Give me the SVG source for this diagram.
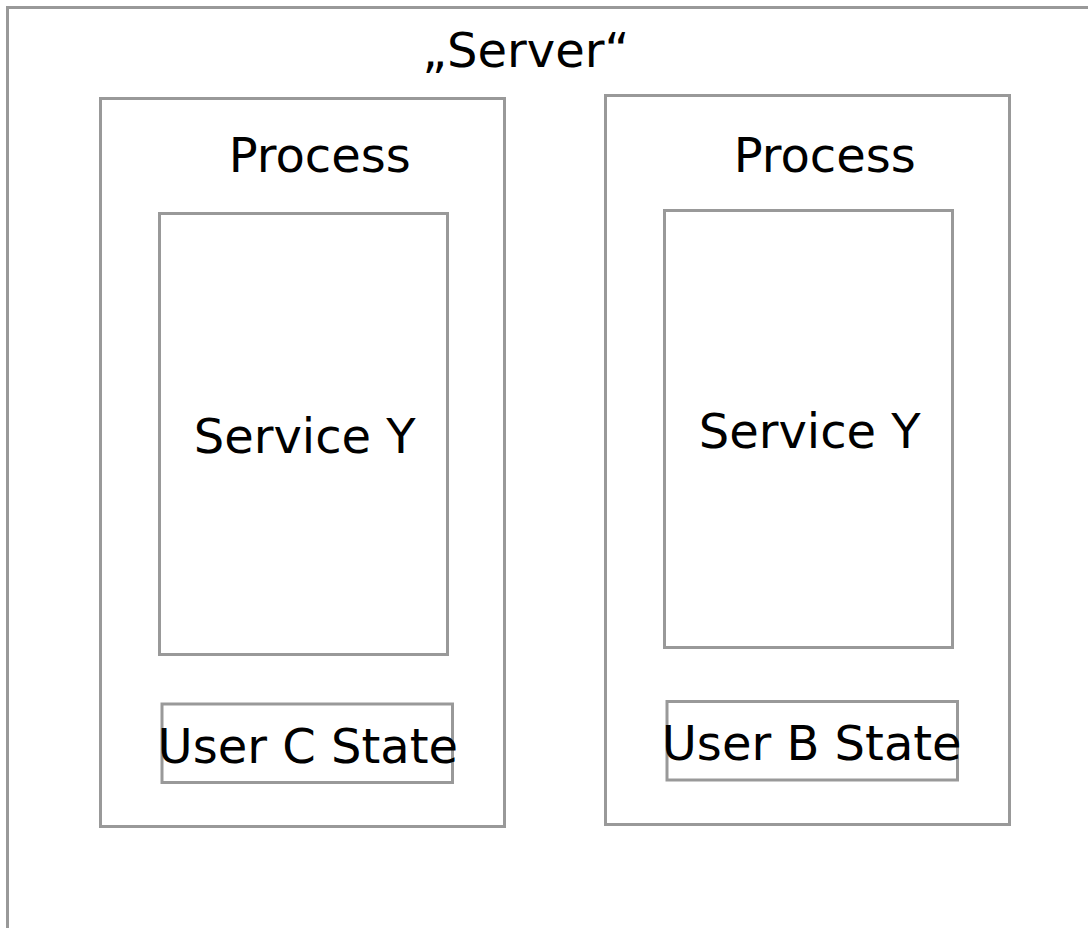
<svg xmlns="http://www.w3.org/2000/svg" width="1088" height="928" viewBox="0 0 1088 928">
<style>
.box{fill:none;stroke:#999999;stroke-width:3}
.bg{fill:#ffffff}
text{font-family:"DejaVu Sans",sans-serif;font-size:48px;fill:#000000;text-anchor:middle}
</style>
<rect class="bg" x="0" y="0" width="1088" height="928"/>
<g id="server">
<rect class="box" x="7.5" y="7.5" width="1100" height="940"/>
<text x="525.7" y="66.7">„Server“</text>
</g>
<g id="process-left">
<rect class="box" x="100.5" y="98.5" width="404" height="728"/>
<text x="319.7" y="171.7">Process</text>
</g>
<g id="service-left">
<rect class="box" x="159.5" y="213.5" width="288" height="441"/>
<text x="304.7" y="452.7">Service Y</text>
</g>
<g id="state-c">
<rect class="box" x="162" y="704" width="290.5" height="78.5"/>
<text x="307.8" y="763.3">User C State</text>
</g>
<g id="process-right">
<rect class="box" x="605.5" y="95.5" width="404" height="729"/>
<text x="824.7" y="171.7">Process</text>
</g>
<g id="service-right">
<rect class="box" x="664.5" y="210.5" width="288" height="437"/>
<text x="809.7" y="447.7">Service Y</text>
</g>
<g id="state-b">
<rect class="box" x="667" y="701.5" width="290.5" height="78.5"/>
<text x="811.7" y="760">User B State</text>
</g>
<g id="connectors"></g>
</svg>
